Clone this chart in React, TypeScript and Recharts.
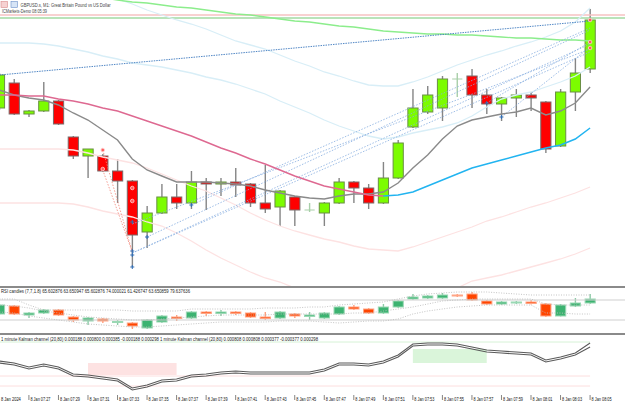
import React from 'react';
import { ComposedChart, Bar, Line, XAxis, YAxis, ReferenceLine, ReferenceArea } from 'recharts';

// GBPUSD.s M1, 8 Jan 2024 — one slot per minute, two empty slots on the right
const TIMES = [
  '07:25', '07:26', '07:27', '07:28', '07:29', '07:30', '07:31', '07:32', '07:33', '07:34',
  '07:35', '07:36', '07:37', '07:38', '07:39', '07:40', '07:41', '07:42', '07:43', '07:44',
  '07:45', '07:46', '07:47', '07:48', '07:49', '07:50', '07:51', '07:52', '07:53', '07:54',
  '07:55', '07:56', '07:57', '07:58', '07:59', '08:00', '08:01', '08:02', '08:03', '08:04',
  '08:05', '08:06', '08:07',
];
const DAY_LABEL = '8 Jan';
const DATE_LABEL = '8 Jan 2024';

const OPEN = [
  1.26977, 1.27002, 1.26971, 1.26974, 1.26984, 1.26948, 1.26929, 1.26929, 1.26914, 1.26904,
  1.26853, 1.26872, 1.26888, 1.26882, 1.26903, 1.26901, 1.26903, 1.26901, 1.26882, 1.26878,
  1.26888, 1.26875, 1.26872, 1.26882, 1.26903, 1.26897, 1.26882, 1.26907, 1.26958, 1.26973,
  1.26977, 1.27006, 1.27009, 1.26990, 1.26981, 1.26987, 1.26990, 1.26983, 1.26939, 1.26993,
  1.27016,
];
const HIGH = [
  1.27012, 1.27006, 1.26975, 1.27003, 1.26985, 1.26949, 1.26936, 1.26931, 1.26926, 1.26905,
  1.26879, 1.26901, 1.26901, 1.26914, 1.26907, 1.26907, 1.26917, 1.26902, 1.26920, 1.26895,
  1.26889, 1.26882, 1.26883, 1.26907, 1.26904, 1.26901, 1.26923, 1.26945, 1.26996, 1.26999,
  1.27009, 1.27012, 1.27016, 1.26996, 1.26988, 1.26996, 1.26993, 1.26984, 1.26996, 1.27027,
  1.27076,
];
const LOW = [
  1.26975, 1.26970, 1.26968, 1.26973, 1.26960, 1.26926, 1.26907, 1.26913, 1.26882, 1.26818,
  1.26837, 1.26871, 1.26876, 1.26876, 1.26875, 1.26889, 1.26888, 1.26878, 1.26872, 1.26859,
  1.26859, 1.26873, 1.26859, 1.26881, 1.26882, 1.26876, 1.26881, 1.26906, 1.26957, 1.26971,
  1.26964, 1.26988, 1.26977, 1.26971, 1.26964, 1.26968, 1.26974, 1.26932, 1.26938, 1.26974,
  1.27012,
];
const CLOSE = [
  1.27010, 1.26971, 1.26974, 1.26984, 1.26961, 1.26929, 1.26936, 1.26914, 1.26904, 1.26850,
  1.26872, 1.26888, 1.26882, 1.26903, 1.26901, 1.26903, 1.26900, 1.26882, 1.26876, 1.26894,
  1.26875, 1.26875, 1.26882, 1.26903, 1.26897, 1.26882, 1.26907, 1.26942, 1.26977, 1.26990,
  1.27006, 1.27006, 1.26990, 1.26981, 1.26987, 1.26990, 1.26987, 1.26936, 1.26993, 1.27012,
  1.27065,
];

const MA_FAST = [
  1.26995, 1.26990, 1.26987, 1.26985, 1.26980, 1.26972, 1.26965, 1.26955, 1.26945, 1.26926,
  1.26915, 1.26909, 1.26903, 1.26903, 1.26903, 1.26902, 1.26901, 1.26899, 1.26895, 1.26892,
  1.26889, 1.26887, 1.26886, 1.26889, 1.26891, 1.26891, 1.26893, 1.26902, 1.26917, 1.26930,
  1.26946, 1.26959, 1.26965, 1.26968, 1.26971, 1.26973, 1.26977, 1.26970, 1.26974, 1.26982,
  1.26998,
];
const MA_SLOW = [
  1.26990, 1.26990, 1.26989, 1.26989, 1.26986, 1.26984, 1.26981, 1.26977, 1.26974, 1.26969,
  1.26964, 1.26959, 1.26954, 1.26949, 1.26943, 1.26937, 1.26932, 1.26926, 1.26921, 1.26915,
  1.26909, 1.26904, 1.26899, 1.26896, 1.26893, 1.26890, 1.26889, 1.26890, 1.26893, 1.26899,
  1.26905, 1.26911, 1.26917, 1.26921, 1.26925, 1.26929, 1.26933, 1.26937, 1.26940, 1.26946,
  1.26957,
];
const SLOW_TURN = 26; // slow MA turns from falling (pink) to rising (blue)
const MA_LONG = [
  null, null, null, null, null, null, null,
  1.27087, 1.27085, 1.27083, 1.27082, 1.27080, 1.27078, 1.27077, 1.27075, 1.27073, 1.27071,
  1.27070, 1.27068, 1.27066, 1.27064, 1.27063, 1.27061, 1.27059, 1.27058, 1.27056, 1.27054,
  1.27053, 1.27052, 1.27051, 1.27051, 1.27050, 1.27050, 1.27049, 1.27048, 1.27047, 1.27047,
  1.27046, 1.27045, 1.27045, 1.27044,
];

const CH_OUTER_UP = [
  null, null, null, null, null, null, null,
  1.27090, 1.27086, 1.27081, 1.27075, 1.27070, 1.27065, 1.27061, 1.27056, 1.27050, 1.27044,
  1.27040, 1.27036, 1.27030, 1.27024, 1.27019, 1.27013, 1.27009, 1.27004, 1.27000, 1.26999,
  1.26999, 1.27003, 1.27008, 1.27014, 1.27020, 1.27025, 1.27030, 1.27034, 1.27039, 1.27043,
  1.27048, 1.27054, 1.27063, 1.27077,
];
const CH_INNER_UP = [
  1.27042, 1.27042, 1.27042, 1.27041, 1.27039, 1.27036, 1.27033, 1.27029, 1.27026, 1.27022,
  1.27020, 1.27018, 1.27015, 1.27012, 1.27008, 1.27005, 1.27001, 1.26996, 1.26991, 1.26984,
  1.26978, 1.26972, 1.26965, 1.26959, 1.26954, 1.26949, 1.26946, 1.26948, 1.26952, 1.26955,
  1.26958, 1.26962, 1.26969, 1.26978, 1.26986, 1.26990, 1.26993, 1.26998, 1.27003, 1.27009,
  1.27018,
];
const CH_INNER_DN = [
  1.26936, 1.26936, 1.26936, 1.26936, 1.26936, 1.26935, 1.26932, 1.26928, 1.26925, 1.26922,
  1.26917, 1.26911, 1.26905, 1.26899, 1.26894, 1.26887, 1.26880, 1.26872, 1.26865, 1.26859,
  1.26854, 1.26850, 1.26846, 1.26843, 1.26839, 1.26836, 1.26835, 1.26834, 1.26838, 1.26843,
  1.26848, 1.26853, 1.26858, 1.26864, 1.26868, 1.26873, 1.26878, 1.26882, 1.26887, 1.26892,
  1.26898,
];
const CH_OUTER_DN = [
  1.26882, 1.26882, 1.26882, 1.26882, 1.26882, 1.26881, 1.26878, 1.26874, 1.26871, 1.26868,
  1.26863, 1.26859, 1.26852, 1.26844, 1.26835, 1.26827, 1.26820, 1.26813, 1.26807, 1.26803,
  1.26797, 1.26791, 1.26787, 1.26783, 1.26780, 1.26778, 1.26777, 1.26779, 1.26783, 1.26788,
  1.26793, 1.26797, 1.26804, 1.26807, 1.26810, 1.26814, 1.26818, 1.26822, 1.26826, 1.26831,
  1.26837,
];

const PRICE_MIN = 1.26799;
const PRICE_MAX = 1.27085;
const LEVEL_PINK = 1.2707;
const LEVEL_GREEN = 1.27067;

// trendlines: [fromBar, price, toBar, price]
const MAIN_TREND = [0, 1.2701, 40, 1.27064];
const BLUE_TRENDS = [
  [9, 1.26832, 40, 1.27041],
  [9, 1.26832, 40, 1.27033],
  [10, 1.26848, 40, 1.27055],
  [9, 1.26861, 40, 1.27036],
  [13, 1.2688, 40, 1.27057],
  [34, 1.26968, 40, 1.27038],
  [33, 1.26982, 40, 1.27043],
];
const RED_TRENDS = [
  [7, 1.26935, 9, 1.26833],
  [7, 1.26915, 9, 1.26833],
];
// markers: [bar, price]
const MARKS_RED = [
  [7, 1.26935], [7, 1.26916], [9, 1.26897], [9, 1.26884],
  [40, 1.27065], [40, 1.27043], [40, 1.27037],
];
const MARKS_BLUE = [
  [9, 1.26863], [9, 1.26834], [9, 1.2683], [9, 1.26818],
  [10, 1.26848], [13, 1.2688], [33, 1.26982], [34, 1.26968],
];

const RSI_OPEN = [42, 58, 40, 44, 50, 36, 28, 32, 25, 24, 14, 26, 36, 34, 46, 43, 46, 44, 36, 34, 42, 37, 34, 42, 56, 52, 44, 56, 72, 74, 74, 80, 82, 68, 62, 64, 66, 62, 38, 58, 64];
const RSI_HIGH = [62, 60, 46, 52, 52, 38, 36, 34, 30, 26, 32, 40, 40, 48, 48, 50, 48, 46, 46, 48, 44, 46, 46, 58, 60, 54, 62, 70, 82, 80, 84, 82, 86, 70, 68, 68, 70, 64, 62, 74, 82];
const RSI_LOW = [40, 40, 34, 42, 38, 26, 20, 24, 20, 12, 12, 24, 28, 32, 38, 38, 40, 34, 30, 32, 34, 30, 32, 40, 50, 42, 42, 54, 70, 72, 72, 76, 68, 60, 60, 62, 61, 36, 37, 56, 62];
const RSI_CLOSE = [60, 42, 44, 50, 40, 30, 34, 28, 27, 18, 30, 38, 33, 46, 43, 46, 43, 36, 33, 46, 38, 40, 44, 56, 52, 44, 56, 68, 76, 78, 80, 78, 70, 62, 66, 66, 63, 38, 60, 64, 72];
const RSI_BAND_UP = [72, 72, 60, 50, 50, 50, 50, 50, 50, 48, 48, 48, 48, 52, 52, 52, 52, 52, 54, 54, 54, 56, 56, 60, 62, 64, 66, 72, 78, 82, 84, 86, 86, 86, 84, 82, 80, 80, 80, 80, 80];
const RSI_BAND_MID = [60, 58, 54, 48, 44, 40, 36, 34, 32, 30, 30, 32, 34, 36, 38, 40, 40, 40, 40, 42, 42, 42, 42, 42, 44, 44, 48, 52, 56, 62, 68, 70, 72, 72, 72, 72, 72, 62, 60, 60, 60];
const RSI_BAND_DN = [46, 44, 38, 34, 30, 26, 22, 20, 18, 16, 16, 18, 20, 22, 24, 26, 26, 26, 26, 28, 28, 28, 26, 24, 26, 28, 28, 32, 42, 48, 52, 56, 58, 60, 60, 60, 60, 44, 44, 42, 42];
const RSI_LEVELS = [70, 30];

// Kalman channel, in points (1e-5)
const KALMAN_A = [11, 9, 5, 8, 5, -2, -3, -5, -7, -16, -13, -8, -7, -3, -2, 0, 1, 0, 0, 0, 0, 0, 3, 9, 9, 8, 11, 17, 28, 29, 29, 28, 25, 22, 21, 20, 19, 12, 15, 19, 29];
const KALMAN_B = [9, 7, 3, 6, 3, -4, -5, -7, -9, -18, -15, -10, -9, -5, -4, -2, -1, -2, -2, -2, -2, -2, 1, 7, 7, 6, 9, 15, 26, 27, 27, 26, 23, 20, 19, 18, 17, 10, 13, 17, 25];
const KALMAN_ZONE_DN = [6, 12, 9, -3];
const KALMAN_ZONE_UP = [28, 33, 23, 9];
const KALMAN_LEVEL_UP = 30;
const KALMAN_LEVELS_DN = [-4, -14];

const RSI_TEXT = 'RSI candles (7,7,1.8) 65.602876 63.650947 65.602876 74.000021 61.426747 63.650859 79.637636';
const KALMAN_TEXT = '1 minute Kalman channel (20,80) 0.000188 0.000800 0.000385 -0.000188 0.000298 1 minute Kalman channel (20,80) 0.000808 0.000808 0.000377 -0.000377 0.000298';

const rows = TIMES.map((t, i) => {
  const r: any = { t };
  if (i >= OPEN.length) return r;
  Object.assign(r, {
    o: OPEN[i], h: HIGH[i], l: LOW[i], c: CLOSE[i],
    fast: MA_FAST[i], long: MA_LONG[i],
    slowDn: i <= SLOW_TURN ? MA_SLOW[i] : null,
    slowUp: i >= SLOW_TURN ? MA_SLOW[i] : null,
    up2: CH_OUTER_UP[i], up1: CH_INNER_UP[i], dn1: CH_INNER_DN[i], dn2: CH_OUTER_DN[i],
    ro: RSI_OPEN[i], rh: RSI_HIGH[i], rl: RSI_LOW[i], rc: RSI_CLOSE[i],
    bu: RSI_BAND_UP[i], bm: RSI_BAND_MID[i], bd: RSI_BAND_DN[i],
    ka: KALMAN_A[i], kb: KALMAN_B[i],
  });
  MARKS_RED.filter((m) => m[0] === i).forEach((m, j) => { r['red' + j] = m[1]; });
  MARKS_BLUE.filter((m) => m[0] === i).forEach((m, j) => { r['blue' + j] = m[1]; });
  return r;
});

const CHART_W = 635; // 43 slots of ~14.77px
const SHIFT = -8;
const NO_MARGIN = { top: 0, right: 0, bottom: 0, left: 0 };

const makeCandle = (k: string[], up: string[], down: string[], doji: string) => (props: any) => {
  const { x, y, width, height, payload } = props;
  const [ko, kh, kl, kc] = k;
  if (!payload || payload[kh] == null) return <g />;
  const top = Math.min(y, y + height);
  const span = Math.abs(height);
  const range = payload[kh] - payload[kl];
  const py = (v: number) => top + (range > 0 ? ((payload[kh] - v) / range) * span : 0);
  const cx = x + width / 2;
  const bw = width * 0.85;
  const o = payload[ko];
  const c = payload[kc];
  const bodyTop = py(Math.max(o, c));
  const bodyBot = py(Math.min(o, c));
  const col = c > o ? up : c < o ? down : [doji, doji, doji];
  return (
    <g>
      <line x1={cx} x2={cx} y1={top} y2={top + span} stroke={col[2]} strokeWidth={1.4} />
      {c === o ? (
        <line x1={cx - bw / 2} x2={cx + bw / 2} y1={bodyTop} y2={bodyTop} stroke={doji} strokeWidth={1} />
      ) : (
        <rect x={cx - bw / 2} y={bodyTop} width={bw} height={Math.max(bodyBot - bodyTop, 1)} fill={col[0]} stroke={col[1]} strokeWidth={1} />
      )}
    </g>
  );
};

const PriceCandle = makeCandle(['o', 'h', 'l', 'c'], ['#7cfc00', '#6a8f45', '#858585'], ['#ff0000', '#7a6a6a', '#858585'], '#a8cfa8');
const RsiCandle = makeCandle(['ro', 'rh', 'rl', 'rc'], ['#3cb371', '#9ad8b4', '#8ccaa6'], ['#ff4500', '#ffa585', '#ff9e7c'], '#9ccfae');

const redMark = (p: any) =>
  p.cy == null || p.value == null ? <g key={`${p.dataKey}-${p.index}`} /> : (
    <circle key={`${p.dataKey}-${p.index}`} cx={p.cx} cy={p.cy} r={1.8} fill="#ff5c5c" stroke="#ffd0d0" strokeWidth={0.8} />
  );
const blueMark = (p: any) =>
  p.cy == null || p.value == null ? <g key={`${p.dataKey}-${p.index}`} /> : (
    <path key={`${p.dataKey}-${p.index}`} d={`M${p.cx - 2},${p.cy}H${p.cx + 2}M${p.cx},${p.cy - 2}V${p.cy + 2}`} stroke="#2f6db5" strokeWidth={1} />
  );

const zoneShape = (bars: number, fill: string) => (p: any) => {
  const band = p.width / bars;
  return <rect x={p.x + band / 2} y={p.y} width={p.width - band} height={p.height} fill={fill} />;
};

const TimeTick = (props: any) => {
  const { x, y, payload } = props;
  const i = TIMES.indexOf(payload.value);
  if (i < 0 || i >= OPEN.length) return <g />;
  const label = i === 0 ? DATE_LABEL : `${DAY_LABEL} ${payload.value}`;
  return (
    <g>
      <line x1={x} x2={x} y1={y + 3} y2={y + 8} stroke="#333" strokeWidth={0.6} />
      <text x={x + 1.5} y={y + 9} fontSize={5} fill="#111" textLength={20} lengthAdjust="spacingAndGlyphs">{label}</text>
    </g>
  );
};

const seg = (s: number[]) => [{ x: TIMES[s[0]], y: s[1] }, { x: TIMES[s[2]], y: s[3] }];

const flatLine = (key: string, color: string, width = 1.5, dash?: string) => (
  <Line key={key} dataKey={key} type="linear" stroke={color} strokeWidth={width} strokeDasharray={dash} dot={false} activeDot={false} isAnimationActive={false} />
);

export default function App() {
  return (
    <div style={{ position: 'absolute', left: 0, top: 0, width: 625, height: 405, overflow: 'hidden', background: '#fff', fontFamily: '"Liberation Sans", Arial, sans-serif' }}>
      {/* price panel */}
      <div style={{ position: 'absolute', left: SHIFT, top: 0 }}>
        <ComposedChart width={CHART_W} height={286} data={rows} margin={NO_MARGIN}>
          <XAxis dataKey="t" type="category" scale="band" hide />
          <YAxis type="number" domain={[PRICE_MIN, PRICE_MAX]} allowDataOverflow hide />
          <ReferenceLine y={LEVEL_PINK} stroke="#f6c2c2" strokeWidth={1.5} />
          <ReferenceLine y={LEVEL_GREEN} stroke="#74c874" strokeWidth={1.2} />
          {flatLine('up2', '#d8eef7', 1.3)}
          {flatLine('up1', '#d8eef7', 1.3)}
          {flatLine('dn1', '#fde2e2', 1.3)}
          {flatLine('dn2', '#fde2e2', 1.3)}
          {flatLine('long', '#8ced8c', 1.3)}
          <ReferenceLine segment={seg(MAIN_TREND)} stroke="#3c78bd" strokeWidth={0.9} strokeDasharray="1.5 1" />
          {BLUE_TRENDS.map((s, i) => (
            <ReferenceLine key={'bt' + i} segment={seg(s)} stroke="#86addf" strokeWidth={0.8} strokeDasharray="1.5 1.5" />
          ))}
          {RED_TRENDS.map((s, i) => (
            <ReferenceLine key={'rt' + i} segment={seg(s)} stroke="#f28577" strokeWidth={0.8} strokeDasharray="1.5 1.5" />
          ))}
          <Bar dataKey={(d: any) => (d.h == null ? null : [d.l, d.h])} shape={PriceCandle} isAnimationActive={false} />
          {flatLine('fast', '#8a8a8a', 1.4)}
          {flatLine('slowDn', '#de6991', 1.4)}
          {flatLine('slowUp', '#22b4f0', 1.5)}
          {[0, 1, 2].map((j) => (
            <Line key={'red' + j} dataKey={'red' + j} stroke="none" dot={redMark} activeDot={false} isAnimationActive={false} />
          ))}
          {[0, 1, 2, 3].map((j) => (
            <Line key={'blue' + j} dataKey={'blue' + j} stroke="none" dot={blueMark} activeDot={false} isAnimationActive={false} />
          ))}
        </ComposedChart>
      </div>

      {/* RSI candles panel */}
      <div style={{ position: 'absolute', left: SHIFT, top: 288 }}>
        <ComposedChart width={CHART_W} height={47} data={rows} margin={NO_MARGIN}>
          <XAxis dataKey="t" type="category" scale="band" hide />
          <YAxis type="number" domain={[0, 94]} allowDataOverflow hide />
          {RSI_LEVELS.map((v) => (
            <ReferenceLine key={v} y={v} stroke="#cfcfcf" strokeWidth={1.2} />
          ))}
          {flatLine('bu', '#bdbdbd', 0.9, '1 1.5')}
          {flatLine('bm', '#bdbdbd', 0.9, '1 1.5')}
          {flatLine('bd', '#bdbdbd', 0.9, '1 1.5')}
          <Bar dataKey={(d: any) => (d.rh == null ? null : [d.rl, d.rh])} shape={RsiCandle} isAnimationActive={false} />
        </ComposedChart>
      </div>

      {/* Kalman channel panel + time axis */}
      <div style={{ position: 'absolute', left: SHIFT, top: 335 }}>
        <ComposedChart width={CHART_W} height={70} data={rows} margin={NO_MARGIN}>
          <XAxis dataKey="t" type="category" scale="band" interval={1} height={13} axisLine={false} tickLine={false} tickSize={0} tickMargin={0} tick={<TimeTick />} />
          <YAxis type="number" domain={[-20, 37]} allowDataOverflow hide />
          <ReferenceArea
            x1={TIMES[KALMAN_ZONE_DN[0]]} x2={TIMES[KALMAN_ZONE_DN[1]]} y1={KALMAN_ZONE_DN[3]} y2={KALMAN_ZONE_DN[2]}
            shape={zoneShape(KALMAN_ZONE_DN[1] - KALMAN_ZONE_DN[0] + 1, '#fde2e2')}
          />
          <ReferenceArea
            x1={TIMES[KALMAN_ZONE_UP[0]]} x2={TIMES[KALMAN_ZONE_UP[1]]} y1={KALMAN_ZONE_UP[3]} y2={KALMAN_ZONE_UP[2]}
            shape={zoneShape(KALMAN_ZONE_UP[1] - KALMAN_ZONE_UP[0] + 1, '#daf5da')}
          />
          <ReferenceLine segment={[{ x: TIMES[0], y: KALMAN_LEVEL_UP }, { x: TIMES[OPEN.length - 1], y: KALMAN_LEVEL_UP }]} stroke="#d6f2d6" strokeWidth={1} />
          {KALMAN_LEVELS_DN.map((v) => (
            <ReferenceLine key={v} segment={[{ x: TIMES[0], y: v }, { x: TIMES[OPEN.length - 1], y: v }]} stroke="#fcdede" strokeWidth={1} />
          ))}
          {flatLine('ka', '#5a5a5a', 1.1)}
          {flatLine('kb', '#5a5a5a', 1.1)}
        </ComposedChart>
      </div>

      {/* panel separators */}
      <div style={{ position: 'absolute', left: 0, top: 286, width: 625, height: 2, background: '#8a8a8a' }} />
      <div style={{ position: 'absolute', left: 0, top: 333, width: 625, height: 2, background: '#8a8a8a' }} />

      {/* header texts */}
      <svg width={625} height={405} style={{ position: 'absolute', left: 0, top: 0, pointerEvents: 'none' }}>
        <rect x={1} y={1.5} width={6.5} height={6} fill="#f6d2d2" stroke="#d98a8a" strokeWidth={0.6} />
        <rect x={11} y={1.5} width={6.5} height={6} fill="#d6e4f6" stroke="#6b8fc9" strokeWidth={0.6} />
        <text x={20.5} y={6.6} fontSize={5} fill="#444" textLength={90} lengthAdjust="spacingAndGlyphs">GBPUSD.s, M1:  Great Britain Pound vs US Dollar</text>
        <text x={2} y={13.2} fontSize={5} fill="#444" textLength={45} lengthAdjust="spacingAndGlyphs">ICMarkets-Demo 08:05:39</text>
        <text x={1} y={293.4} fontSize={5} fill="#222" textLength={189} lengthAdjust="spacingAndGlyphs">{RSI_TEXT}</text>
        <text x={1} y={341} fontSize={4.8} fill="#222" textLength={317} lengthAdjust="spacingAndGlyphs">{KALMAN_TEXT}</text>
      </svg>
    </div>
  );
}
